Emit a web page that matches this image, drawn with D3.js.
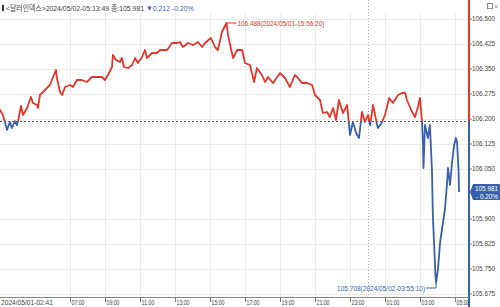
<!DOCTYPE html>
<html>
<head>
<meta charset="utf-8">
<script src="https://cdn.jsdelivr.net/npm/d3@7"></script>
<style>
body { margin: 0; background: #fff; }
svg { display: block; font-family: "Liberation Sans", Arial, "Noto Sans CJK KR", sans-serif; }
</style>
</head>
<body>
<div id="chart"></div>
<script>
// data (dollar index, 1 day)
var times = [
  "2024/05/01 02:41", "2024/05/01 03:00", "2024/05/01 03:10", "2024/05/01 03:17", "2024/05/01 03:24",
  "2024/05/01 03:34", "2024/05/01 03:41", "2024/05/01 03:51", "2024/05/01 03:58", "2024/05/01 04:02",
  "2024/05/01 04:12", "2024/05/01 04:19", "2024/05/01 04:33", "2024/05/01 04:46", "2024/05/01 04:53",
  "2024/05/01 05:07", "2024/05/01 05:10", "2024/05/01 05:17", "2024/05/01 05:34", "2024/05/01 05:51",
  "2024/05/01 06:02", "2024/05/01 06:12", "2024/05/01 06:15", "2024/05/01 06:26", "2024/05/01 06:33",
  "2024/05/01 06:43", "2024/05/01 07:00", "2024/05/01 07:10", "2024/05/01 07:24", "2024/05/01 07:41",
  "2024/05/01 07:58", "2024/05/01 08:15", "2024/05/01 08:33", "2024/05/01 08:50", "2024/05/01 09:00",
  "2024/05/01 09:10", "2024/05/01 09:24", "2024/05/01 09:27", "2024/05/01 09:38", "2024/05/01 09:51",
  "2024/05/01 09:58", "2024/05/01 10:05", "2024/05/01 10:19", "2024/05/01 10:33", "2024/05/01 10:43",
  "2024/05/01 10:53", "2024/05/01 11:07", "2024/05/01 11:17", "2024/05/01 11:24", "2024/05/01 11:41",
  "2024/05/01 11:58", "2024/05/01 12:09", "2024/05/01 12:33", "2024/05/01 12:50", "2024/05/01 13:07",
  "2024/05/01 13:17", "2024/05/01 13:27", "2024/05/01 13:45", "2024/05/01 14:02", "2024/05/01 14:19",
  "2024/05/01 14:33", "2024/05/01 14:43", "2024/05/01 15:03", "2024/05/01 15:17", "2024/05/01 15:27",
  "2024/05/01 15:41", "2024/05/01 15:56:20", "2024/05/01 16:02", "2024/05/01 16:09", "2024/05/01 16:19",
  "2024/05/01 16:33", "2024/05/01 16:50", "2024/05/01 17:00", "2024/05/01 17:17", "2024/05/01 17:31",
  "2024/05/01 17:41", "2024/05/01 17:58", "2024/05/01 18:09", "2024/05/01 18:19", "2024/05/01 18:36",
  "2024/05/01 19:00", "2024/05/01 19:17", "2024/05/01 19:34", "2024/05/01 19:51", "2024/05/01 20:02",
  "2024/05/01 20:15", "2024/05/01 20:33", "2024/05/01 20:50", "2024/05/01 21:00", "2024/05/01 21:17",
  "2024/05/01 21:27", "2024/05/01 21:41", "2024/05/01 21:51", "2024/05/01 22:02", "2024/05/01 22:12",
  "2024/05/01 22:22", "2024/05/01 22:36", "2024/05/01 22:50", "2024/05/01 23:00", "2024/05/01 23:10",
  "2024/05/01 23:21", "2024/05/01 23:31", "2024/05/01 23:41", "2024/05/01 23:51", "2024/05/02 00:02",
  "2024/05/02 00:09", "2024/05/02 00:19", "2024/05/02 00:33", "2024/05/02 00:36", "2024/05/02 00:50",
  "2024/05/02 01:00", "2024/05/02 01:14", "2024/05/02 01:27", "2024/05/02 01:45", "2024/05/02 01:58",
  "2024/05/02 02:09", "2024/05/02 02:15", "2024/05/02 02:33", "2024/05/02 02:43", "2024/05/02 02:53",
  "2024/05/02 03:00", "2024/05/02 03:07", "2024/05/02 03:10", "2024/05/02 03:12", "2024/05/02 03:17",
  "2024/05/02 03:27", "2024/05/02 03:34", "2024/05/02 03:41", "2024/05/02 03:44", "2024/05/02 03:48",
  "2024/05/02 03:53", "2024/05/02 03:55:10", "2024/05/02 04:02", "2024/05/02 04:09", "2024/05/02 04:19",
  "2024/05/02 04:26", "2024/05/02 04:33", "2024/05/02 04:36", "2024/05/02 04:43", "2024/05/02 04:50",
  "2024/05/02 04:57", "2024/05/02 05:03", "2024/05/02 05:07", "2024/05/02 05:10", "2024/05/02 05:12",
  "2024/05/02 05:13:49"
];
var values = [
  106.220, 106.227, 106.212, 106.191, 106.167,
  106.191, 106.173, 106.194, 106.182, 106.194,
  106.239, 106.212, 106.233, 106.266, 106.248,
  106.242, 106.233, 106.272, 106.287, 106.302,
  106.326, 106.347, 106.323, 106.281, 106.272,
  106.296, 106.302, 106.296, 106.317, 106.317,
  106.311, 106.326, 106.326, 106.326, 106.317,
  106.332, 106.356, 106.392, 106.377, 106.371,
  106.383, 106.356, 106.353, 106.362, 106.383,
  106.368, 106.386, 106.407, 106.383, 106.398,
  106.398, 106.407, 106.407, 106.428, 106.428,
  106.431, 106.416, 106.428, 106.422, 106.431,
  106.416, 106.428, 106.443, 106.416, 106.407,
  106.461, 106.488, 106.452, 106.422, 106.383,
  106.407, 106.407, 106.368, 106.362, 106.311,
  106.353, 106.332, 106.311, 106.326, 106.308,
  106.338, 106.323, 106.296, 106.332, 106.323,
  106.308, 106.308, 106.302, 106.272, 106.257,
  106.218, 106.221, 106.206, 106.233, 106.197,
  106.257, 106.218, 106.242, 106.152, 106.191,
  106.158, 106.143, 106.221, 106.191, 106.212,
  106.182, 106.242, 106.182, 106.173, 106.191,
  106.212, 106.263, 106.248, 106.272, 106.278,
  106.278, 106.257, 106.221, 106.206, 106.236,
  106.263, 106.191, 106.131, 106.053, 106.182,
  106.143, 106.182, 106.047, 105.912, 105.831,
  105.732, 105.708, 105.753, 105.831, 105.891,
  105.933, 106.011, 106.053, 106.002, 106.071,
  106.122, 106.143, 106.131, 106.080, 106.050,
  105.981
];
var yTicks = [106.500, 106.425, 106.350, 106.275, 106.200, 106.125, 106.050, 105.900, 105.825, 105.750, 105.675];
var xTicks = [
  "2024/05/01 07:00", "2024/05/01 09:00", "2024/05/01 11:00", "2024/05/01 13:00", "2024/05/01 15:00",
  "2024/05/01 17:00", "2024/05/01 19:00", "2024/05/01 21:00", "2024/05/01 23:00", "2024/05/02 01:00",
  "2024/05/02 03:00", "2024/05/02 05:00"
];
var dayBreak = "2024/05/02 00:00";
var prevClose = 106.193;
var changeAbs = 0.212;
var changePct = -0.20;
var title = "<달러인덱스>";

var width = 500, height = 307;
var plotRight = 469, plotBottom = 297;
var red = "#e8352b", blue = "#3a5fae";

var parse = function(s) {
    return d3.timeParse("%Y/%m/%d %H:%M:%S")(s) || d3.timeParse("%Y/%m/%d %H:%M")(s);
};
var fmtFull = d3.timeFormat("%Y/%m/%d-%H:%M:%S");
var fmtHM = d3.timeFormat("%H:%M");

var data = times.map(function(t, i) { return { date: parse(t), value: values[i] }; });

var x = d3.scaleTime()
    .domain([parse("2024/05/01 07:00"), parse("2024/05/02 05:00")])
    .range([70, 455]);
var y = d3.scaleLinear()
    .domain([105.675, 106.5])
    .range([294, 19]);

var svg = d3.select("#chart").append("svg")
    .attr("width", width)
    .attr("height", height);

var base = y(prevClose);

//squeeze text to the narrow look of the original
function narrow(sel, len) {
    sel.attr("textLength", len).attr("lengthAdjust", "spacingAndGlyphs");
}

//grid
svg.append("g").selectAll("line")
    .data(yTicks).enter().append("line")
    .attr("x1", 0).attr("x2", plotRight)
    .attr("y1", function(d) { return Math.round(y(d)) + 0.5; })
    .attr("y2", function(d) { return Math.round(y(d)) + 0.5; })
    .style("stroke", "#ececec");

svg.append("g").selectAll("line")
    .data(xTicks).enter().append("line")
    .attr("x1", function(d) { return Math.round(x(parse(d))) + 0.5; })
    .attr("x2", function(d) { return Math.round(x(parse(d))) + 0.5; })
    .attr("y1", 13).attr("y2", plotBottom)
    .style("stroke", "#ececec");

svg.append("line")
    .attr("x1", Math.round(x(parse(dayBreak))) + 0.5)
    .attr("x2", Math.round(x(parse(dayBreak))) + 0.5)
    .attr("y1", 0).attr("y2", plotBottom)
    .style("stroke", "#aaa")
    .style("stroke-dasharray", "1,2");

//baseline (previous close)
svg.append("line")
    .attr("x1", 0).attr("x2", plotRight)
    .attr("y1", Math.round(base) + 0.5).attr("y2", Math.round(base) + 0.5)
    .style("stroke", "#555")
    .style("stroke-dasharray", "2,2");

//clip paths for up/down colouring
var defs = svg.append("defs");
defs.append("clipPath").attr("id", "clipUp")
    .append("rect").attr("x", 0).attr("y", 0).attr("width", plotRight).attr("height", base);
defs.append("clipPath").attr("id", "clipDown")
    .append("rect").attr("x", 0).attr("y", base).attr("width", plotRight).attr("height", plotBottom - base);

var line = d3.line()
    .x(function(d) { return x(d.date); })
    .y(function(d) { return y(d.value); });

svg.append("path").datum(data)
    .attr("clip-path", "url(#clipUp)")
    .attr("d", line)
    .style("fill", "none").style("stroke", red).style("stroke-width", 1.8)
    .style("stroke-linejoin", "round");

svg.append("path").datum(data)
    .attr("clip-path", "url(#clipDown)")
    .attr("d", line)
    .style("fill", "none").style("stroke", blue).style("stroke-width", 1.8)
    .style("stroke-linejoin", "round");

//max / min labels
var iMax = d3.maxIndex(data, function(d) { return d.value; });
var iMin = d3.minIndex(data, function(d) { return d.value; });
var pMax = data[iMax], pMin = data[iMin];

svg.append("line")
    .attr("x1", x(pMax.date)).attr("x2", x(pMax.date) + 10)
    .attr("y1", y(pMax.value)).attr("y2", y(pMax.value))
    .style("stroke", red);
svg.append("text")
    .attr("x", x(pMax.date) + 11).attr("y", y(pMax.value))
    .attr("dy", "0.35em")
    .style("font-size", "7.5px").style("fill", red)
    .text(pMax.value.toFixed(3) + "(" + fmtFull(pMax.date) + ")")
    .call(narrow, 87);

svg.append("line")
    .attr("x1", x(pMin.date)).attr("x2", x(pMin.date))
    .attr("y1", y(pMin.value)).attr("y2", y(pMin.value) + 5)
    .style("stroke", blue);
svg.append("line")
    .attr("x1", x(pMin.date)).attr("x2", x(pMin.date) - 10)
    .attr("y1", y(pMin.value) + 5).attr("y2", y(pMin.value) + 5)
    .style("stroke", blue);
svg.append("text")
    .attr("x", x(pMin.date) - 11).attr("y", y(pMin.value) + 5)
    .attr("dy", "0.35em")
    .attr("text-anchor", "end")
    .style("font-size", "7.5px").style("fill", blue)
    .text(pMin.value.toFixed(3) + "(" + fmtFull(pMin.date) + ")")
    .call(narrow, 88);

//right axis
svg.append("line")
    .attr("x1", plotRight).attr("x2", plotRight)
    .attr("y1", 0).attr("y2", base)
    .style("stroke", red).style("stroke-width", 2);
svg.append("line")
    .attr("x1", plotRight).attr("x2", plotRight)
    .attr("y1", base).attr("y2", height)
    .style("stroke", blue).style("stroke-width", 2);

var yAxis = svg.append("g").selectAll("g")
    .data(yTicks).enter().append("g")
    .attr("transform", function(d) { return "translate(0," + y(d) + ")"; });
yAxis.append("line")
    .attr("x1", plotRight).attr("x2", plotRight + 3)
    .style("stroke", "#777");
yAxis.append("text")
    .attr("x", plotRight + 3)
    .attr("dy", "0.35em")
    .style("font-size", "7px").style("fill", "#444")
    .text(function(d) { return d.toFixed(3); })
    .call(narrow, 23);

//last price box
var last = data[data.length - 1];
var ly = y(last.value);
svg.append("path")
    .attr("d", "M" + (plotRight + 1) + "," + ly + "L" + (plotRight + 4) + "," + (ly - 8) +
        "H" + width + "V" + (ly + 8) + "H" + (plotRight + 4) + "Z")
    .style("fill", blue);
svg.append("text")
    .attr("x", width - 2).attr("y", ly - 1)
    .attr("text-anchor", "end")
    .style("font-size", "7px").style("fill", "#fff")
    .text(last.value.toFixed(3))
    .call(narrow, 23);
svg.append("text")
    .attr("x", width - 2).attr("y", ly + 6.5)
    .attr("text-anchor", "end")
    .style("font-size", "7px").style("fill", "#fff")
    .text("- " + Math.abs(changePct).toFixed(2) + "%")
    .call(narrow, 22);

//bottom axis
svg.append("line")
    .attr("x1", 0).attr("x2", plotRight)
    .attr("y1", plotBottom + 0.5).attr("y2", plotBottom + 0.5)
    .style("stroke", "#888");

var xAxis = svg.append("g").selectAll("g")
    .data(xTicks).enter().append("g")
    .attr("transform", function(d) { return "translate(" + (Math.round(x(parse(d))) + 0.5) + ",0)"; });
xAxis.append("line")
    .attr("y1", plotBottom).attr("y2", plotBottom + 5)
    .style("stroke", "#777");
xAxis.append("text")
    .attr("x", 1).attr("y", 305)
    .style("font-size", "7.5px").style("fill", "#444")
    .text(function(d) { return fmtHM(parse(d)); })
    .call(narrow, 13);

svg.append("text")
    .attr("x", 1).attr("y", 305)
    .style("font-size", "7.5px").style("fill", "#444")
    .text(fmtFull(data[0].date).slice(0, 16))
    .call(narrow, 52);

//header
svg.append("rect")
    .attr("x", 2).attr("y", 5).attr("width", 2).attr("height", 6)
    .style("fill", "#333");
var header = svg.append("g")
    .attr("transform", "translate(6,11) scale(0.86,1)")
    .append("text")
    .style("font-size", "8px").style("fill", "#444");
header.append("tspan")
    .text(title + fmtFull(last.date) + " 종:" + last.value.toFixed(3) + "  ");
header.append("tspan")
    .style("fill", blue)
    .text("▼" + changeAbs.toFixed(3) + "  " + changePct.toFixed(2) + "%");

//window icons
svg.append("rect")
    .attr("x", 487.5).attr("y", 3.5).attr("width", 5).attr("height", 5)
    .style("fill", "none").style("stroke", "#888");
svg.append("text")
    .attr("x", 494).attr("y", 9)
    .style("font-size", "7px").style("fill", "#888")
    .text("×");
</script>
</body>
</html>
